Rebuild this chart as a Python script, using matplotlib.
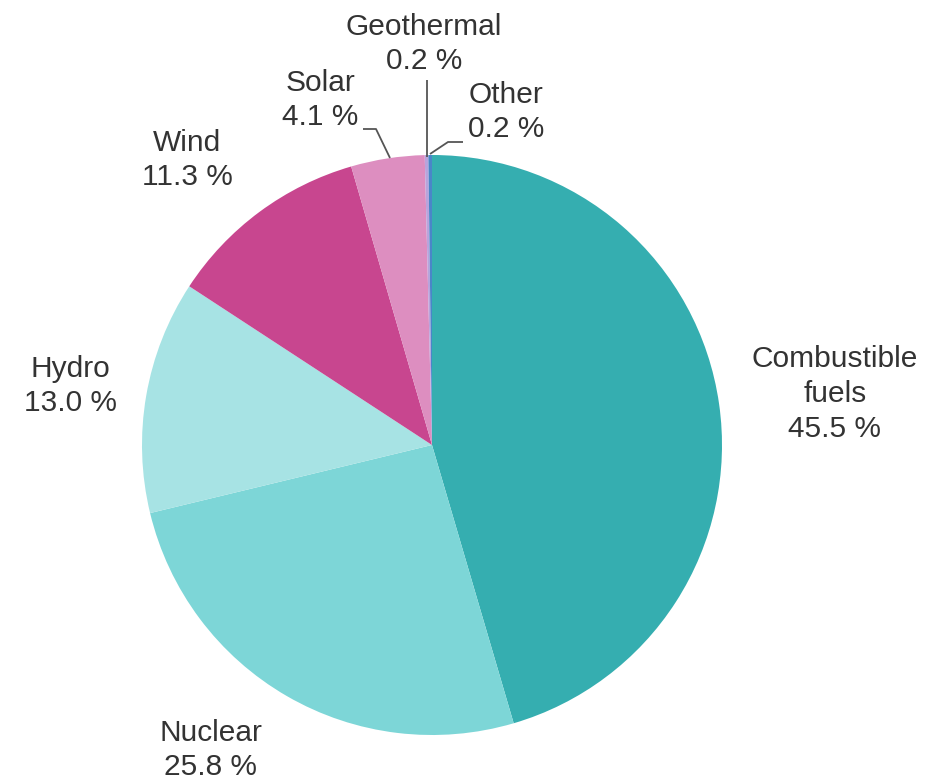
import matplotlib.pyplot as plt

# Electricity generation by source, share of total (%)
sources = ["Combustible\nfuels", "Nuclear", "Hydro", "Wind", "Solar", "Geothermal", "Other"]
shares = [45.5, 25.8, 13.0, 11.3, 4.1, 0.2, 0.2]
colors = ["#35aeb0", "#7dd6d7", "#a7e3e4", "#c8468f", "#dd8ec0", "#b9a3dc", "#4a86c8"]

W, H = 926, 782

fig = plt.figure(figsize=(W / 100, H / 100), dpi=100)
ax = fig.add_axes([0, 0, 1, 1])


def py(y):
    # y measured from the top edge of the figure
    return H - y


ax.pie(
    shares,
    colors=colors,
    startangle=90,
    counterclock=False,
    center=(432, py(445)),
    radius=290,
    wedgeprops=dict(linewidth=0),
    frame=True,
)
ax.set_xlim(0, W)
ax.set_ylim(0, H)
ax.set_aspect("equal")
ax.axis("off")

# label block centres, in pixels from the top-left corner
label_pos = [(835, 394), (211, 750), (70, 386), (187, 160), (320, 100), (424, 44), (506, 112)]

for name, val, (x, y) in zip(sources, shares, label_pos):
    ax.text(
        x, py(y), f"{name}\n{val:.1f} %",
        ha="center", va="center", fontsize=21.5, linespacing=1.3,
        color="#333333", family=["Liberation Sans", "DejaVu Sans"],
    )

# leader lines for the thin slices
leaders = [
    [(363, 129), (376, 129), (390, 158)],   # Solar
    [(427, 80), (427, 157)],                # Geothermal
    [(463, 142), (448, 142), (430, 154)],   # Other
]
for pts in leaders:
    xs = [p[0] for p in pts]
    ys = [py(p[1]) for p in pts]
    ax.plot(xs, ys, color="#555555", linewidth=1.3, solid_capstyle="butt")

fig.savefig("out.png", dpi=100, facecolor="white")
